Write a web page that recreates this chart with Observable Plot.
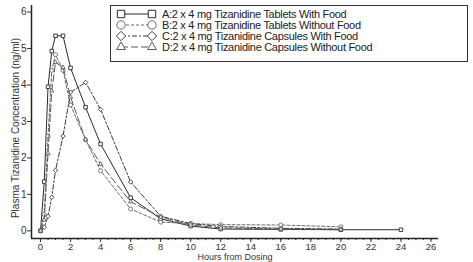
<!DOCTYPE html>
<html><head><meta charset="utf-8">
<script src="https://cdn.jsdelivr.net/npm/d3@7"></script>
<script src="https://cdn.jsdelivr.net/npm/@observablehq/plot@0.6"></script>
<style>
body{margin:0;background:#fff;}
#wrap{position:relative;width:473px;height:262px;overflow:hidden;}
#legend{position:absolute;left:0;top:0;}
</style></head><body><div id="wrap"></div>
<script>
// Data
const hours = [0, 0.25, 0.5, 0.75, 1, 1.5, 2, 3, 4, 6, 8, 10, 12, 16, 20, 24];
const concA = [0, 1.35, 3.95, 4.93, 5.35, 5.35, 4.47, 3.39, 2.38, 0.91, 0.33, 0.13, 0.05, 0.04, 0.03, 0.03];
const concB = [0, 0.45, 2.6, 4.4, 4.83, 4.4, 3.45, 2.5, 1.65, 0.6, 0.24, 0.2, 0.17, 0.16, 0.11, null];
const concC = [0, 0.1, 0.4, 0.92, 1.66, 2.6, 3.8, 4.07, 3.33, 1.34, 0.4, 0.2, 0.12, 0.07, 0.05, null];
const concD = [0, 0.3, 2.12, 3.84, 4.62, 4.48, 3.67, 2.5, 1.83, 0.8, 0.38, 0.16, 0.08, 0.05, 0.03, null];
const seriesNames = ["A", "B", "C", "D"];
const seriesLabels = [
  "A:2 x 4 mg Tizanidine Tablets With Food",
  "B:2 x 4 mg Tizanidine Tablets Without Food",
  "C:2 x 4 mg Tizanidine Capsules With Food",
  "D:2 x 4 mg Tizanidine Capsules Without Food"
];
const xTickLabels = [0, 2, 4, 6, 8, 10, 12, 14, 16, 18, 20, 22, 24, 26];
const yTickLabels = [0, 1, 2, 3, 4, 5, 6];
const xMinorTicks = d3.range(0, 26.5, 0.5);
const xDomain = [-0.6, 26.5];
const yDomain = [-0.21, 6.18];
const xTitle = "Hours from Dosing";
const yTitle = "Plasma Tizanidine Concentration (ng/ml)";

const styles = {
  A: {stroke: "#2a2a2a", dash: null, symbol: "square"},
  B: {stroke: "#6a6a6a", dash: "3,2", symbol: "circle"},
  C: {stroke: "#3a3a3a", dash: "5,2,2,2", symbol: "diamond2"},
  D: {stroke: "#5a5a5a", dash: "7,3", symbol: "triangle2"}
};
const concs = {A: concA, B: concB, C: concC, D: concD};
const rows = [];
for (const s of seriesNames) {
  hours.forEach((h, i) => { if (concs[s][i] != null) rows.push({s, h, c: concs[s][i]}); });
}

const marks = [
  Plot.axisX({ticks: xMinorTicks, tickSize: 2, tickFormat: () => "", label: null, stroke: "#333"}),
  Plot.axisX({ticks: xTickLabels, tickSize: 4, tickPadding: 1, fontSize: 9.5, tickFormat: d => String(d), label: null, fill: "#333", stroke: "#333"}),
  Plot.axisY({ticks: yTickLabels, tickSize: 4, tickPadding: 1, tickFormat: d => String(d), label: null, fill: "#333", stroke: "#333"}),
  Plot.ruleY([yDomain[0]], {stroke: "#222", strokeWidth: 1.5}),
  Plot.ruleX([xDomain[0]], {stroke: "#222", strokeWidth: 1.5}),
  Plot.text([xTitle], {frameAnchor: "bottom", lineAnchor: "bottom", dy: 21, fontSize: 9, fill: "#333", letterSpacing: "-0.3px"}),
  Plot.text([yTitle], {frameAnchor: "left", textAnchor: "middle", rotate: -90, dx: -16, dy: 6, fontSize: 10, fill: "#333"})
];
for (const s of seriesNames) {
  const d = rows.filter(r => r.s === s);
  const st = styles[s];
  marks.push(Plot.line(d, {x: "h", y: "c", stroke: st.stroke, strokeWidth: 1, strokeDasharray: st.dash}));
  marks.push(Plot.dot(d, {x: "h", y: "c", symbol: () => st.symbol, r: 2, stroke: st.stroke, fill: "white", strokeWidth: 0.9}));
}

const chart = Plot.plot({
  width: 473, height: 262,
  marginLeft: 31, marginRight: 35, marginTop: 5, marginBottom: 24,
  style: {fontFamily: "'Liberation Sans', Arial, sans-serif", fontSize: "10px", color: "#333", background: "white"},
  x: {domain: xDomain},
  y: {domain: yDomain},
  symbol: {type: "identity"},
  marks
});
document.getElementById("wrap").appendChild(chart);

// Legend overlay
const lg = d3.create("svg").attr("id", "legend").attr("width", 473).attr("height", 70)
  .style("font-family", "'Liberation Sans', Arial, sans-serif");
lg.append("rect").attr("x", 110.5).attr("y", 5.5).attr("width", 357).attr("height", 56)
  .attr("fill", "white").attr("stroke", "#333").attr("stroke-width", 1);
const rowY = [14, 25, 36, 47];
const symMap = {square: d3.symbolSquare, circle: d3.symbolCircle, diamond2: d3.symbolDiamond2, triangle2: d3.symbolTriangle2};
seriesNames.forEach((s, i) => {
  const st = styles[s];
  const y = rowY[i];
  lg.append("line").attr("x1", 121).attr("x2", 152).attr("y1", y).attr("y2", y)
    .attr("stroke", st.stroke).attr("stroke-width", 1).attr("stroke-dasharray", st.dash);
  const path = d3.symbol(symMap[st.symbol], 55)();
  [121, 152].forEach(x => {
    lg.append("path").attr("d", path).attr("transform", `translate(${x},${y})`)
      .attr("fill", "white").attr("stroke", st.stroke).attr("stroke-width", 1);
  });
  lg.append("text").attr("x", 162).attr("y", y + 4).attr("font-size", 11).attr("fill", "#222")
    .attr("letter-spacing", "-0.3").text(seriesLabels[i]);
});
document.getElementById("wrap").appendChild(lg.node());
</script></body></html>
